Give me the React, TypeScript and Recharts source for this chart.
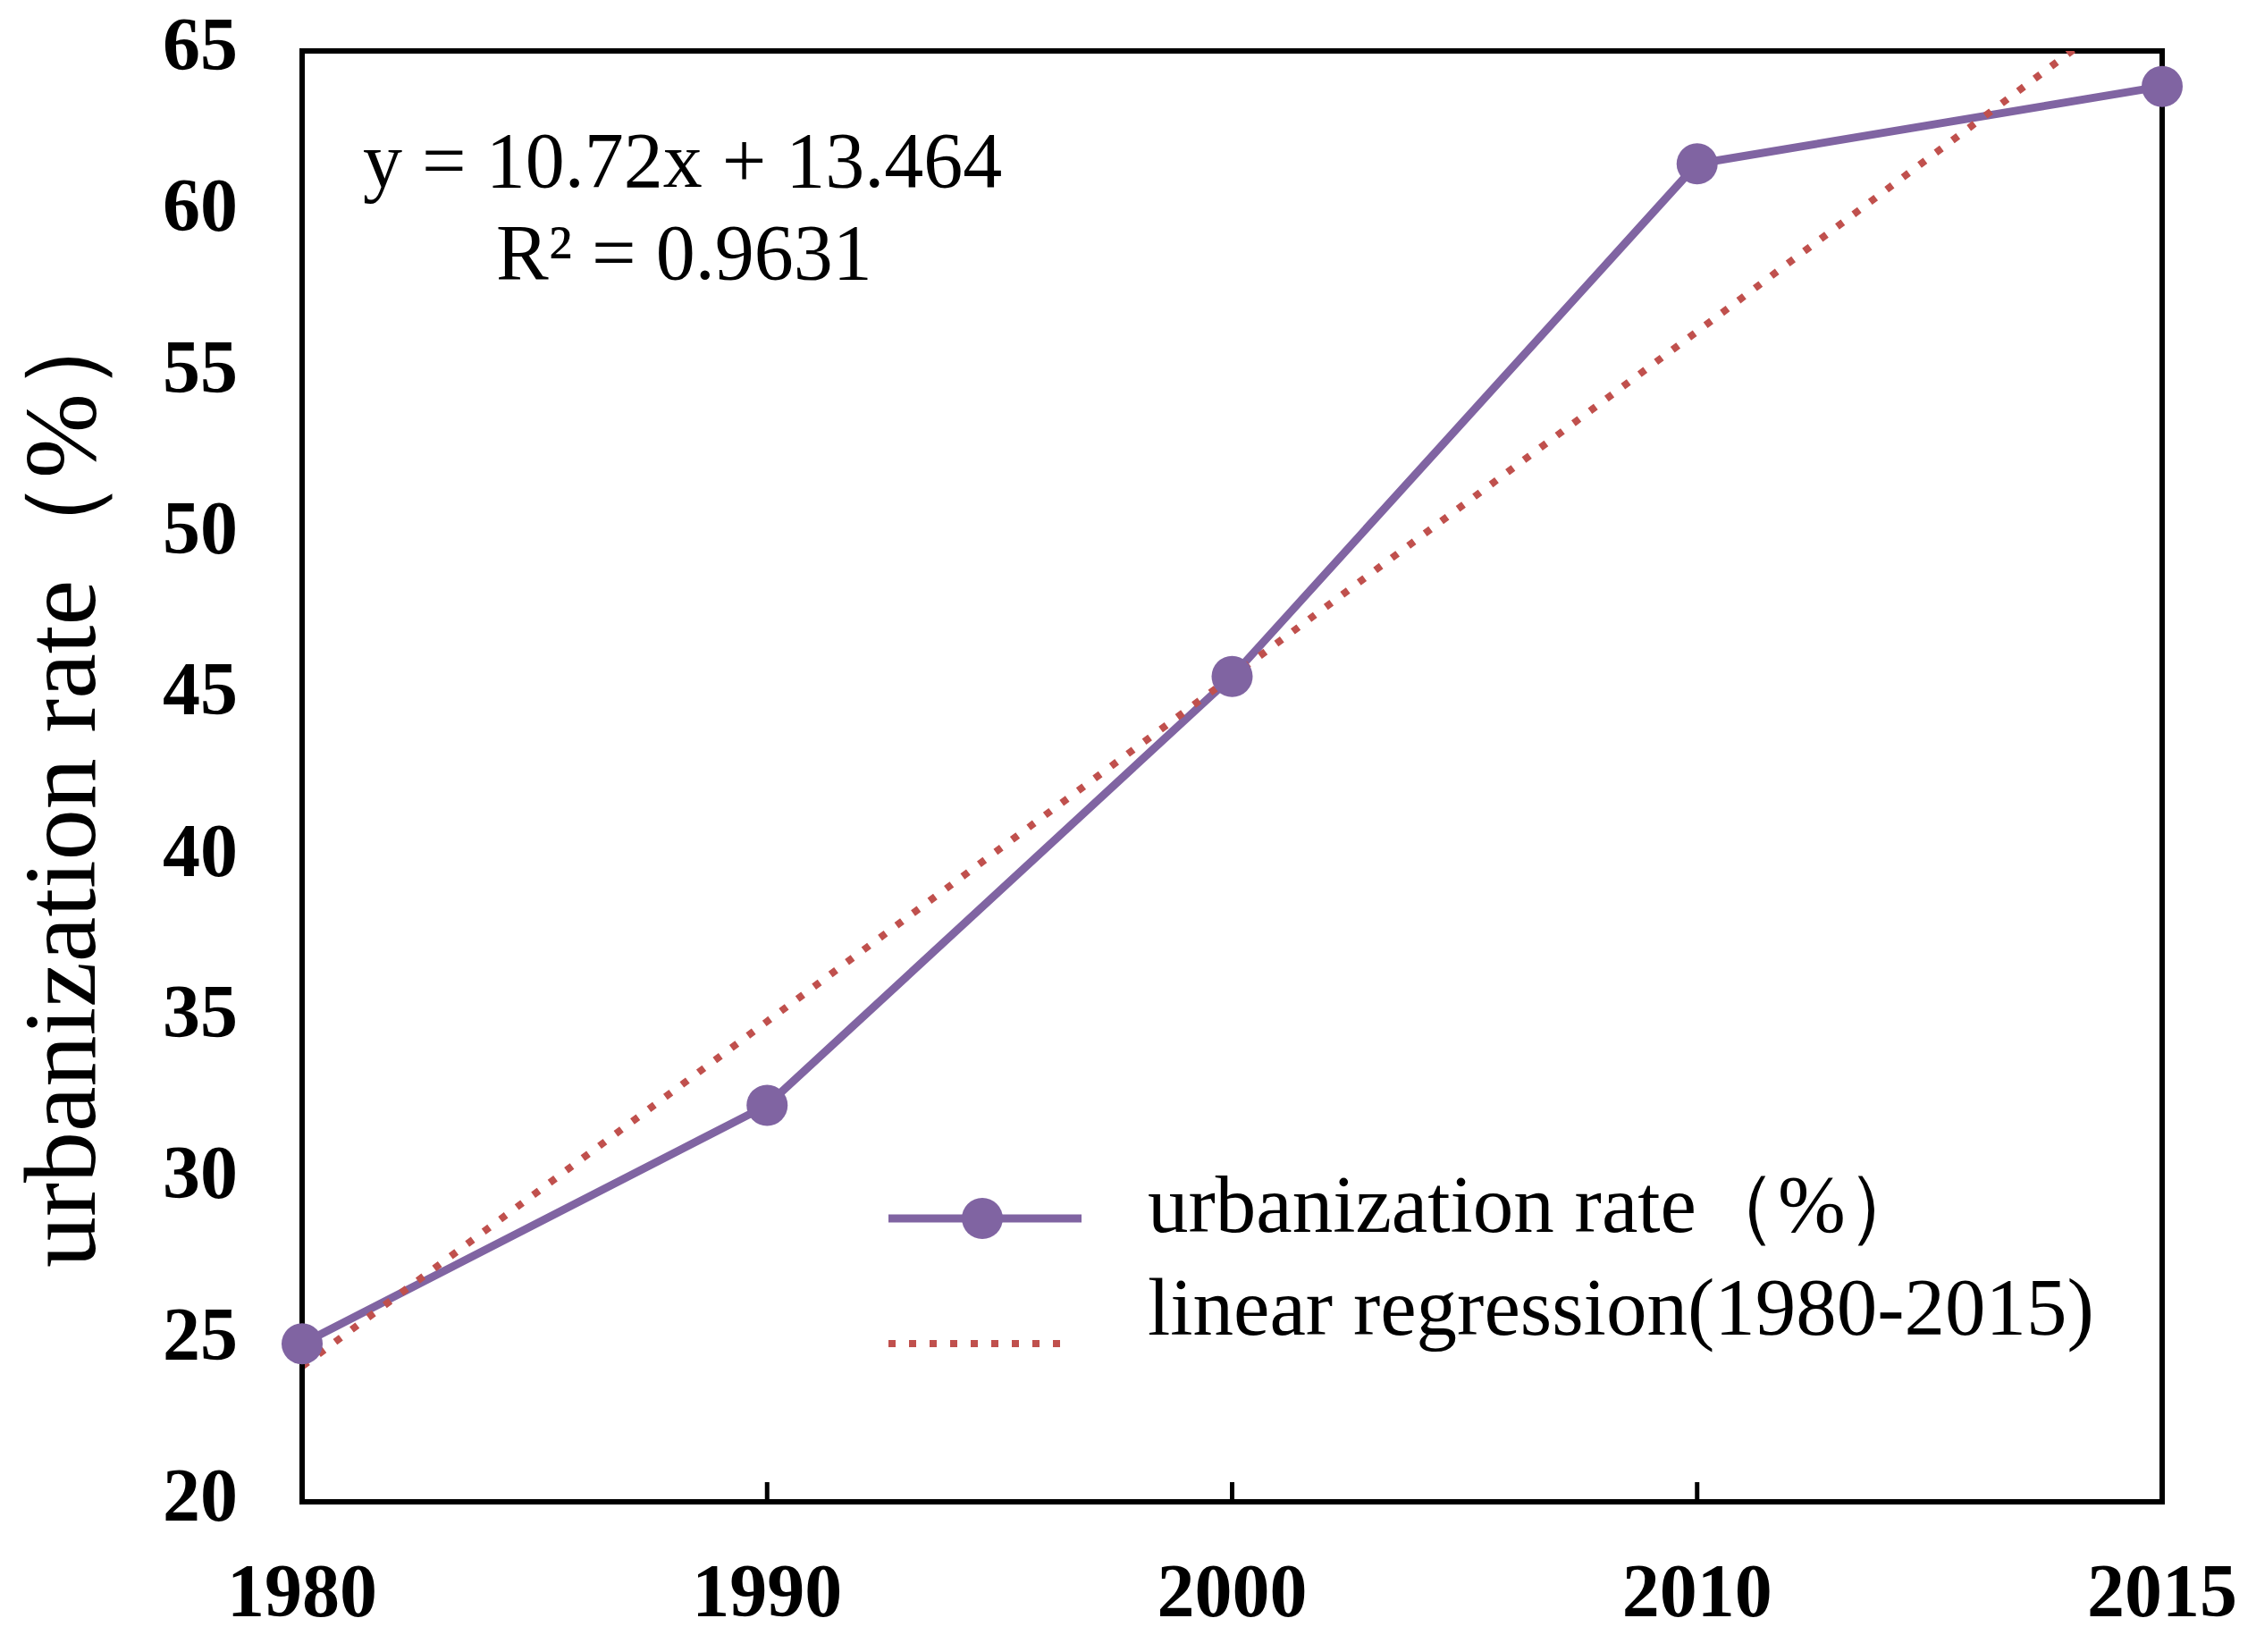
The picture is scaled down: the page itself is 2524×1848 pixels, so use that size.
import React from 'react';
import { LineChart, Line, XAxis, YAxis, Legend, ReferenceLine } from 'recharts';

const years = ['1980', '1990', '2000', '2010', '2015'];
const urbanRate = [24.9, 32.3, 45.6, 61.5, 63.9];
// regression line read at each year (y = 10.72x + 13.464)
const trendRate = [24.2, 34.9, 45.6, 56.3, 67.1];
const yTicks = [20, 25, 30, 35, 40, 45, 50, 55, 60, 65];

const data = years.map((year, i) => ({ year, rate: urbanRate[i], trend: trendRate[i] }));

const SERIF = "'Liberation Serif', 'Times New Roman', serif";
const PURPLE = '#8064A2';
const RED = '#C0504D';
const frame = { stroke: '#000', strokeWidth: 6, strokeLinecap: 'square' as const };

function XTick({ x, y, payload }: { x?: number; y?: number; payload?: { value: string } }) {
  const v = payload?.value ?? '';
  const inner = v !== years[0] && v !== years[years.length - 1];
  return (
    <g>
      {inner && <line x1={x} x2={x} y1={y} y2={(y ?? 0) - 22} stroke="#000" strokeWidth={5} />}
      <text x={x} y={(y ?? 0) + 128} textAnchor="middle" fontSize={84} fontWeight={700} fontFamily={SERIF} fill="#000">
        {v}
      </text>
    </g>
  );
}

function YTick({ x, y, payload }: { x?: number; y?: number; payload?: { value: number } }) {
  return (
    <text x={x} y={(y ?? 0) + 21} textAnchor="end" fontSize={84} fontWeight={700} fontFamily={SERIF} fill="#000">
      {payload?.value}
    </text>
  );
}

function LegendBox() {
  return (
    <svg width={1400} height={260} style={{ display: 'block' }}>
      <line x1={26} x2={242} y1={75} y2={75} stroke={PURPLE} strokeWidth={9} />
      <circle cx={131} cy={75} r={23} fill={PURPLE} />
      <text x={316} y={90} fontSize={91} fontFamily={SERIF} fill="#000">urbanization rate（%）</text>
      <line x1={26} x2={230} y1={215} y2={215} stroke={RED} strokeWidth={8} strokeDasharray="8 15" />
      <text x={316} y={205} fontSize={91} fontFamily={SERIF} fill="#000">linear regression(1980-2015)</text>
    </svg>
  );
}

export default function App() {
  return (
    <LineChart
      width={2508}
      height={1832}
      data={data}
      margin={{ top: 49, right: 97, left: 0, bottom: 0 }}
      style={{ overflow: 'visible' }}
    >
      <XAxis
        dataKey="year"
        scale="point"
        padding={{ left: 0, right: 0 }}
        height={160}
        interval={0}
        axisLine={frame}
        tickLine={false}
        tickSize={0}
        tickMargin={0}
        tick={<XTick />}
      />
      <YAxis
        width={330}
        domain={[20, 65]}
        ticks={yTicks}
        interval={0}
        allowDataOverflow
        axisLine={frame}
        tickLine={false}
        tickSize={0}
        tickMargin={72}
        tick={<YTick />}
      />
      <ReferenceLine y={65} stroke="#000" strokeWidth={6} strokeLinecap="square" />
      <ReferenceLine x="2015" stroke="#000" strokeWidth={6} strokeLinecap="square" />
      <Line
        dataKey="rate"
        stroke={PURPLE}
        strokeWidth={9}
        dot={{ r: 23, fill: PURPLE, stroke: 'none', clipDot: false }}
        activeDot={false}
        isAnimationActive={false}
      />
      <Line
        dataKey="trend"
        stroke={RED}
        strokeWidth={8}
        strokeDasharray="8 15"
        dot={false}
        activeDot={false}
        isAnimationActive={false}
      />
      <Legend
        layout="vertical"
        align="center"
        verticalAlign="middle"
        content={<LegendBox />}
        wrapperStyle={{ left: 960, top: 1280, width: 1400, height: 260 }}
      />
      <text x={398} y={201} fontSize={88} fontFamily={SERIF} fill="#000">y = 10.72x + 13.464</text>
      <text x={547} y={304} fontSize={88} fontFamily={SERIF} fill="#000">R² = 0.9631</text>
      <text
        x={98}
        y={864}
        transform="rotate(-90 98 864)"
        textAnchor="middle"
        fontSize={114}
        fontFamily={SERIF}
        fill="#000"
      >
        urbanization rate（%）
      </text>
    </LineChart>
  );
}
